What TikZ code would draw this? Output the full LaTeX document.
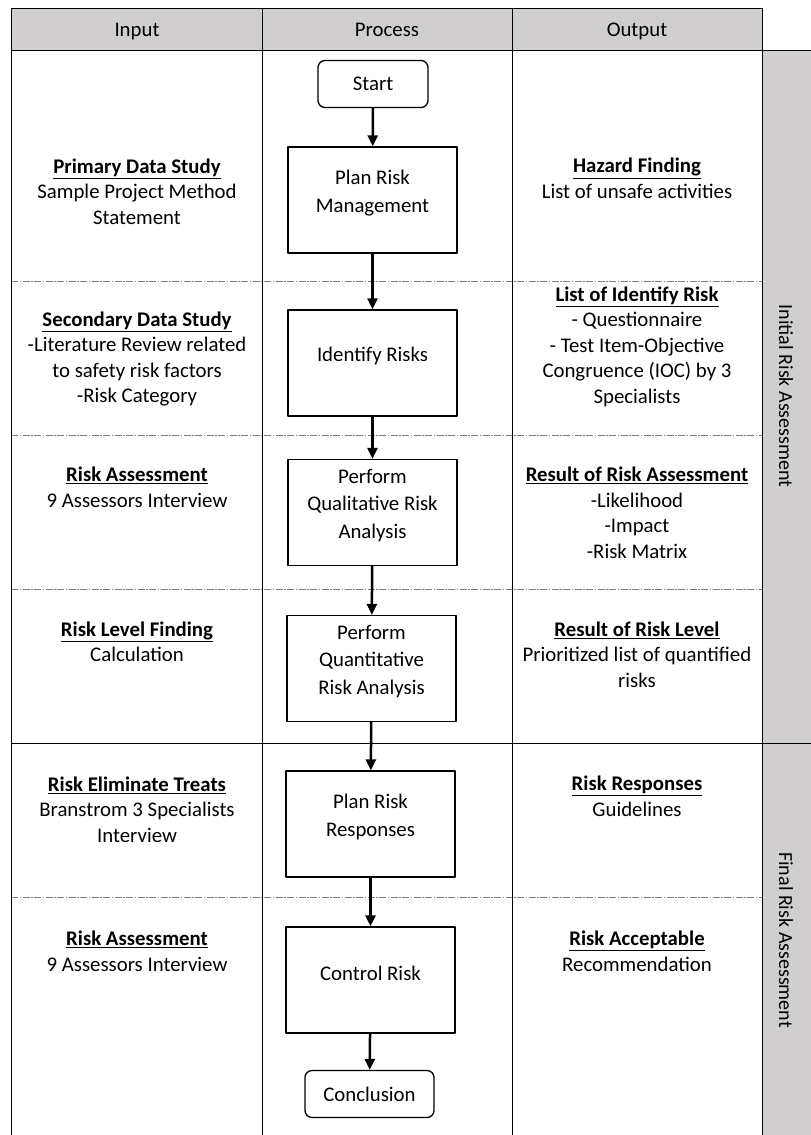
\documentclass[tikz,border=0pt]{standalone}
\usepackage{fontspec}
\setmainfont{Carlito}
\usepackage{tikz}
\usetikzlibrary{arrows.meta}
\definecolor{HeadGray}{RGB}{208,206,206}

\newcommand{\hd}[1]{\textbf{\underline{#1}}}

\begin{document}
\begin{tikzpicture}[
    x=1pt, y=-1pt,
    >={Triangle[length=11pt,width=10pt]},
    line join=round,
    every node/.style={font=\fontsize{20.8}{25.5}\selectfont},
    procbox/.style={draw, line width=1.3pt, minimum width=169pt, minimum height=106pt},
    boxtxt/.style={align=center, yshift=7pt, font=\fontsize{20.8}{27.5}\selectfont},
    termbox/.style={draw, line width=1.3pt, rounded corners=7pt, minimum height=47pt},
    info/.style={align=center},
    headtxt/.style={anchor=base},
    sidetxt/.style={rotate=-90, font=\fontsize{20}{24}\selectfont},
    flow/.style={->, line width=2.5pt},
    rowsep/.style={gray, line width=0.8pt, dash pattern=on 7pt off 1.5pt on 1.5pt off 1.5pt},
    gridline/.style={line width=1pt}
]

\useasboundingbox (0,0) rectangle (811,1135);

% header and side band
\fill[HeadGray] (11,8) rectangle (762,50);
\fill[HeadGray] (762,50) rectangle (811,1135);

\foreach \y in {281,435,589,897}
    \draw[rowsep] (11,\y) -- (762,\y);
\draw[gridline] (11,743) -- (811,743);

\draw[gridline] (11,1135) -- (11,8) -- (762,8) -- (762,1135);
\draw[gridline] (11,50) -- (811,50);
\draw[gridline] (262,8) -- (262,1135);
\draw[gridline] (512,8) -- (512,1135);

\node[headtxt] (hin) at (137,36) {Input};
\node[headtxt] (hproc) at (387,36) {Process};
\node[headtxt] (hout) at (637,36) {Output};

\node[sidetxt] (initial) at (786,396) {Initial Risk Assessment};
\node[sidetxt] (final) at (786,940) {Final Risk Assessment};

% process column
\node[termbox, minimum width=110pt] (start) at (373,84) {Start};
\node[procbox, label={[boxtxt]center:{Plan Risk\\Management}}] (plan) at (372.5,200) {};
\node[procbox, label={[boxtxt]center:Identify Risks}] (ident) at (372.5,363) {};
\node[procbox, label={[boxtxt]center:{Perform\\Qualitative Risk\\Analysis}}] (qual) at (372.5,512.5) {};
\node[procbox, label={[boxtxt]center:{Perform\\Quantitative\\Risk Analysis}}] (quant) at (371.5,668.5) {};
\node[procbox, label={[boxtxt]center:{Plan Risk\\Responses}}] (resp) at (370.5,824) {};
\node[procbox, label={[boxtxt]center:Control Risk}] (ctrl) at (370.5,980) {};
\node[termbox, minimum width=129pt] (concl) at (369.5,1094) {Conclusion};

\draw[flow] (start) -- (plan);
\draw[flow] (plan) -- (ident);
\draw[flow] (ident) -- (qual);
\draw[flow] (qual) -- (quant);
\draw[flow] (quant) -- (resp);
\draw[flow] (resp) -- (ctrl);
\draw[flow] (ctrl) -- (concl);

% input column
\node[info] (prim) at (137,191.5) {\hd{Primary Data Study}\\Sample Project Method\\Statement};
\node[info] (sec) at (137,359) {\hd{Secondary Data Study}\\-Literature Review related\\to safety risk factors\\-Risk Category};
\node[info] (assess) at (137,487.5) {\hd{Risk Assessment}\\9 Assessors Interview};
\node[info] (lvlfind) at (137,642) {\hd{Risk Level Finding}\\Calculation};
\node[info] (elim) at (137,809.5) {\hd{Risk Eliminate Treats}\\Branstrom 3 Specialists\\Interview};
\node[info] (assess2) at (137,951.5) {\hd{Risk Assessment}\\9 Assessors Interview};

% output column
\node[info] (hazard) at (637,178.5) {\hd{Hazard Finding}\\List of unsafe activities};
\node[info] (idlist) at (637,346.5) {\hd{List of Identify Risk}\\- Questionnaire\\- Test Item-Objective\\Congruence (IOC) by 3\\Specialists};
\node[info] (result) at (637,513) {\hd{Result of Risk Assessment}\\-Likelihood\\-Impact\\-Risk Matrix};
\node[info] (level) at (637,654.5) {\hd{Result of Risk Level}\\Prioritized list of quantified\\risks};
\node[info] (responses) at (637,796.5) {\hd{Risk Responses}\\Guidelines};
\node[info] (accept) at (637,951.5) {\hd{Risk Acceptable}\\Recommendation};

\end{tikzpicture}
\end{document}
